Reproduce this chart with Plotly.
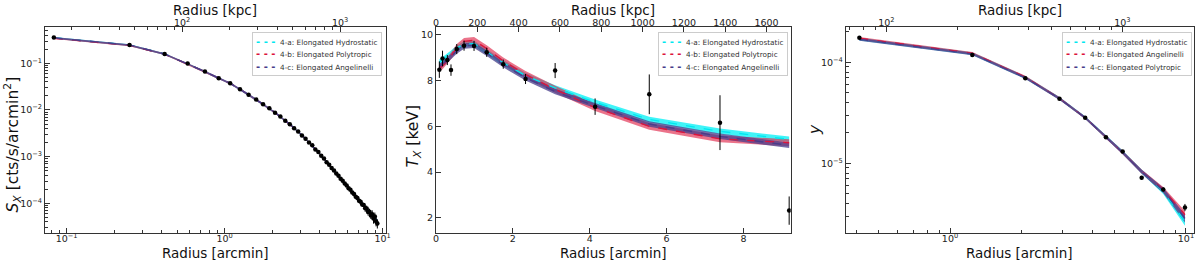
import plotly.graph_objects as go

KPC_PER_ARCMIN = 186.0

# ---------------- Panel 1 : X-ray surface brightness ----------------
sx_radius = [0.083, 0.250, 0.417, 0.583, 0.750, 0.917, 1.083, 1.250, 1.417, 1.583,
             1.750, 1.917, 2.083, 2.250, 2.417, 2.583, 2.750, 2.917, 3.083, 3.250,
             3.417, 3.583, 3.750, 3.917, 4.083, 4.250, 4.417, 4.583, 4.750, 4.917,
             5.083, 5.250, 5.417, 5.583, 5.750, 5.917, 6.083, 6.250, 6.417, 6.583,
             6.750, 6.917, 7.083, 7.250, 7.417, 7.583, 7.750, 7.917, 8.083, 8.250,
             8.417, 8.583, 8.750, 8.917, 9.083, 9.250]
sx_value = [0.355, 0.246, 0.159, 0.0985, 0.0665, 0.0480, 0.0372, 0.0278, 0.0212, 0.0168,
            0.0132, 0.0109, 0.00875, 0.00722, 0.00590, 0.00495, 0.00405, 0.00345, 0.00283, 0.00243,
            0.00200, 0.00175, 0.00143, 0.00126, 0.00104, 9.1e-4, 7.6e-4, 6.7e-4, 5.7e-4, 5.05e-4,
            4.35e-4, 3.9e-4, 3.35e-4, 3.05e-4, 2.65e-4, 2.42e-4, 2.1e-4, 1.95e-4, 1.7e-4, 1.58e-4,
            1.38e-4, 1.3e-4, 1.14e-4, 1.08e-4, 9.4e-5, 9.2e-5, 7.8e-5, 7.7e-5, 6.5e-5, 6.6e-5,
            5.5e-5, 5.8e-5, 4.7e-5, 5.2e-5, 4.1e-5, 3.7e-5]
sx_err_frac = [0.02, 0.02, 0.02, 0.02, 0.02, 0.02, 0.02, 0.02, 0.02, 0.02,
               0.025, 0.025, 0.025, 0.025, 0.025, 0.025, 0.025, 0.025, 0.025, 0.025,
               0.035, 0.035, 0.035, 0.035, 0.035, 0.035, 0.035, 0.035, 0.035, 0.035,
               0.05, 0.05, 0.05, 0.05, 0.05, 0.05, 0.07, 0.07, 0.07, 0.07,
               0.07, 0.10, 0.10, 0.10, 0.10, 0.10, 0.16, 0.16, 0.16, 0.16,
               0.16, 0.22, 0.22, 0.22, 0.22, 0.22]

sx_model_radius = [0.083, 0.250, 0.417, 0.583, 0.750, 0.917, 1.083, 1.250, 1.583, 2.083,
                   2.583, 3.083, 3.583, 4.083, 4.583, 5.083, 5.583, 6.083, 6.583, 7.083,
                   7.583, 8.083, 8.583, 9.250]
sx_model_a = [0.350, 0.245, 0.158, 0.0980, 0.0661, 0.0478, 0.0373, 0.0277, 0.01667, 0.00879,
              0.00492, 0.00287, 0.00172, 0.00106, 6.65e-4, 4.40e-4, 3.02e-4, 2.14e-4, 1.56e-4, 1.17e-4,
              8.87e-5, 6.87e-5, 5.45e-5, 4.05e-5]
sx_model_b = [0.345, 0.242, 0.157, 0.0978, 0.0660, 0.0478, 0.0372, 0.0277, 0.01665, 0.00878,
              0.00491, 0.00287, 0.00172, 0.00106, 6.63e-4, 4.38e-4, 3.00e-4, 2.12e-4, 1.54e-4, 1.15e-4,
              8.70e-5, 6.70e-5, 5.20e-5, 3.75e-5]
sx_model_c = [0.350, 0.246, 0.158, 0.0981, 0.0662, 0.0479, 0.0373, 0.0278, 0.01668, 0.00880,
              0.00493, 0.00288, 0.00173, 0.00107, 6.66e-4, 4.41e-4, 3.03e-4, 2.15e-4, 1.57e-4, 1.18e-4,
              8.95e-5, 6.95e-5, 5.50e-5, 4.10e-5]
sx_band_frac = [0.045, 0.045, 0.045, 0.045, 0.045, 0.045, 0.045, 0.045, 0.045, 0.045,
                0.045, 0.045, 0.045, 0.045, 0.05, 0.05, 0.05, 0.055, 0.06, 0.065,
                0.07, 0.08, 0.09, 0.11]
sx_labels = ["4-a: Elongated Hydrostatic", "4-b: Elongated Polytropic", "4-c: Elongated Angelinelli"]

# ---------------- Panel 2 : X-ray temperature ----------------
t_radius = [0.087, 0.17, 0.295, 0.39, 0.54, 0.73, 0.99, 1.32, 1.75, 2.33, 3.10, 4.14, 5.55, 7.39, 9.19]
t_value = [8.48, 8.97, 8.90, 8.46, 9.38, 9.53, 9.52, 9.24, 8.72, 8.07, 8.44, 6.86, 7.40, 6.16, 2.31]
t_err = [0.36, 0.34, 0.22, 0.25, 0.22, 0.22, 0.22, 0.20, 0.20, 0.22, 0.33, 0.36, 0.87, 1.20, 0.62]
t_model_a = [8.80, 8.90, 9.05, 9.20, 9.42, 9.60, 9.62, 9.27, 8.78, 8.22, 7.68, 7.05, 6.30, 5.78, 5.43]
t_model_b = [8.55, 8.65, 8.88, 9.08, 9.45, 9.72, 9.76, 9.40, 8.86, 8.27, 7.62, 6.82, 6.00, 5.45, 5.28]
t_model_c = [8.62, 8.72, 8.90, 9.05, 9.30, 9.52, 9.55, 9.20, 8.70, 8.12, 7.52, 6.90, 6.10, 5.56, 5.17]
t_band_halfwidth = [0.12, 0.15, 0.12]
t_labels = ["4-a: Elongated Hydrostatic", "4-b: Elongated Polytropic", "4-c: Elongated Angelinelli"]

# ---------------- Panel 3 : Compton y ----------------
y_radius = [0.413, 1.243, 2.085, 2.91, 3.74, 4.58, 5.39, 6.49, 8.01, 9.90]
y_value = [1.75e-4, 1.18e-4, 6.95e-5, 4.37e-5, 2.83e-5, 1.81e-5, 1.31e-5, 7.2e-6, 5.52e-6, 3.66e-6]
y_err = [4e-6, 3e-6, 2e-6, 1.2e-6, 8e-7, 5e-7, 4e-7, 3e-7, 2.5e-7, 3e-7]
y_model_a = [1.70e-4, 1.22e-4, 7.10e-5, 4.40e-5, 2.84e-5, 1.85e-5, 1.29e-5, 8.3e-6, 5.3e-6, 2.65e-6]
y_model_b = [1.73e-4, 1.23e-4, 7.15e-5, 4.40e-5, 2.83e-5, 1.83e-5, 1.28e-5, 8.3e-6, 5.5e-6, 3.10e-6]
y_model_c = [1.69e-4, 1.21e-4, 7.05e-5, 4.38e-5, 2.83e-5, 1.84e-5, 1.28e-5, 8.25e-6, 5.4e-6, 2.85e-6]
y_band_frac = [0.03, 0.03, 0.03, 0.03, 0.03, 0.035, 0.04, 0.045, 0.06, 0.09]
y_labels = ["4-a: Elongated Hydrostatic", "4-b: Elongated Angelinelli", "4-c: Elongated Polytropic"]

# ---------------- styling ----------------
LINE_COLORS = ["#00e8f0", "#dc143c", "#483d8b"]
BAND_COLORS = ["rgba(0,240,245,0.75)", "rgba(225,40,75,0.65)", "rgba(72,61,139,0.75)"]
FONT = "DejaVu Sans"
AX_COLOR = "#333333"

fig = go.Figure()


def add_band(xs, lo, hi, color, xa, ya):
    fig.add_trace(go.Scatter(x=list(xs) + list(xs)[::-1], y=list(hi) + list(lo)[::-1],
                             fill="toself", fillcolor=color, line=dict(width=0),
                             mode="lines", hoverinfo="skip", showlegend=False,
                             xaxis=xa, yaxis=ya))


def add_line(xs, ys, color, xa, ya):
    fig.add_trace(go.Scatter(x=xs, y=ys, mode="lines",
                             line=dict(color=color, width=1.4, dash="dash"),
                             showlegend=False, xaxis=xa, yaxis=ya))


def add_points(xs, ys, errs, xa, ya):
    fig.add_trace(go.Scatter(x=xs, y=ys, mode="markers",
                             marker=dict(color="black", size=4.5),
                             error_y=dict(type="data", array=errs, color="black", thickness=1, width=0),
                             showlegend=False, xaxis=xa, yaxis=ya))


# panel 1
sx_models = [sx_model_a, sx_model_b, sx_model_c]
for m, bc in zip(sx_models, BAND_COLORS):
    add_band(sx_model_radius, [v * (1 - f) for v, f in zip(m, sx_band_frac)],
             [v * (1 + f) for v, f in zip(m, sx_band_frac)], bc, "x", "y")
for m, lc in zip(sx_models, LINE_COLORS):
    add_line(sx_model_radius, m, lc, "x", "y")
add_points(sx_radius, sx_value, [v * f for v, f in zip(sx_value, sx_err_frac)], "x", "y")
fig.add_trace(go.Scatter(x=[r * KPC_PER_ARCMIN for r in sx_radius], y=sx_value, mode="markers",
                         marker=dict(opacity=0), hoverinfo="skip", showlegend=False,
                         xaxis="x4", yaxis="y"))

# panel 2
t_models = [t_model_a, t_model_b, t_model_c]
for m, bc, hw in zip(t_models, BAND_COLORS, t_band_halfwidth):
    add_band(t_radius, [v - hw for v in m], [v + hw for v in m], bc, "x2", "y2")
for m, lc in zip(t_models, LINE_COLORS):
    add_line(t_radius, m, lc, "x2", "y2")
add_points(t_radius, t_value, t_err, "x2", "y2")
fig.add_trace(go.Scatter(x=[r * KPC_PER_ARCMIN for r in t_radius], y=t_value, mode="markers",
                         marker=dict(opacity=0), hoverinfo="skip", showlegend=False,
                         xaxis="x5", yaxis="y2"))

# panel 3
y_models = [y_model_a, y_model_b, y_model_c]
for m, bc in zip(y_models, BAND_COLORS):
    add_band(y_radius, [v * (1 - f) for v, f in zip(m, y_band_frac)],
             [v * (1 + f) for v, f in zip(m, y_band_frac)], bc, "x3", "y3")
for m, lc in zip(y_models, LINE_COLORS):
    add_line(y_radius, m, lc, "x3", "y3")
add_points(y_radius, y_value, y_err, "x3", "y3")
fig.add_trace(go.Scatter(x=[r * KPC_PER_ARCMIN for r in y_radius], y=y_value, mode="markers",
                         marker=dict(opacity=0), hoverinfo="skip", showlegend=False,
                         xaxis="x6", yaxis="y3"))

# ---------------- axes ----------------
W, H = 1200, 264


def xd(a, b):
    return [a / W, b / W]


Y_DOM = [1 - 233 / H, 1 - 26.7 / H]
X_DOMS = [xd(45, 385.7), xd(436, 790.7), xd(845.7, 1194)]

base = dict(showline=True, linecolor=AX_COLOR, linewidth=1, ticks="inside", ticklen=5,
            tickwidth=1, tickcolor=AX_COLOR, showgrid=False, zeroline=False,
            tickfont=dict(family=FONT, size=9.5, color="#222222"), automargin=False)
top = dict(base, ticklabelstandoff=-4)
bottom = dict(base, ticklabelstandoff=-3)
MINOR = dict(ticks="inside", ticklen=3, tickcolor=AX_COLOR, tickmode="array")


def minor_log(decades):
    return [m * 10 ** d for d in decades for m in range(2, 10)]


def sup(p):
    return "10<sup>" + ("\u2212" if p < 0 else "") + str(abs(p)) + "</sup>"


LOG_KPC = 2.2695  # log10(KPC_PER_ARCMIN)

layout_axes = dict(
    # panel 1
    xaxis=dict(bottom, domain=X_DOMS[0], anchor="y", type="log", range=[-1.137, 1.019], mirror=True,
               tickmode="array", tickvals=[0.1, 1, 10], ticktext=[sup(-1), sup(0), sup(1)],
               minor=dict(MINOR, tickvals=minor_log([-2, -1, 0]))),
    yaxis=dict(base, domain=Y_DOM, anchor="x", type="log", range=[-4.636, -0.216], mirror=True,
               tickmode="array", tickvals=[1e-4, 1e-3, 1e-2, 1e-1], ticktext=[sup(-4), sup(-3), sup(-2), sup(-1)],
               minor=dict(MINOR, tickvals=minor_log([-5, -4, -3, -2, -1]))),
    xaxis4=dict(top, overlaying="x", side="top", anchor="y", type="log",
                range=[-1.137 + LOG_KPC, 1.019 + LOG_KPC],
                tickmode="array", tickvals=[100, 1000], ticktext=[sup(2), sup(3)],
                minor=dict(MINOR, tickvals=minor_log([1, 2, 3]))),
    # panel 2
    xaxis2=dict(bottom, domain=X_DOMS[1], anchor="y2", range=[0, 9.23], mirror=True,
                tickmode="array", tickvals=[0, 2, 4, 6, 8]),
    yaxis2=dict(base, domain=Y_DOM, anchor="x2", range=[1.33, 10.36], mirror=True,
                tickmode="array", tickvals=[2, 4, 6, 8, 10]),
    xaxis5=dict(top, overlaying="x2", side="top", anchor="y2", range=[0, 9.23 * KPC_PER_ARCMIN],
                tickmode="array", tickvals=[0, 200, 400, 600, 800, 1000, 1200, 1400, 1600]),
    # panel 3
    xaxis3=dict(bottom, domain=X_DOMS[2], anchor="y3", type="log", range=[-0.442, 1.034], mirror=True,
                tickmode="array", tickvals=[1, 10], ticktext=[sup(0), sup(1)],
                minor=dict(MINOR, tickvals=minor_log([-1, 0]))),
    yaxis3=dict(base, domain=Y_DOM, anchor="x3", type="log", range=[-5.690, -3.647], mirror=True,
                tickmode="array", tickvals=[1e-5, 1e-4], ticktext=[sup(-5), sup(-4)],
                minor=dict(MINOR, tickvals=minor_log([-6, -5, -4]))),
    xaxis6=dict(top, overlaying="x3", side="top", anchor="y3", type="log",
                range=[-0.442 + LOG_KPC, 1.034 + LOG_KPC],
                tickmode="array", tickvals=[100, 1000], ticktext=[sup(2), sup(3)],
                minor=dict(MINOR, tickvals=minor_log([1, 2, 3]))),
)


def legend_text(labels):
    rows = []
    for lab, col in zip(labels, LINE_COLORS):
        rows.append(f"<span style='color:{col};font-size:10px'><b>- - -</b></span>"
                    f"<span style='font-size:7.3px'>  {lab}</span>")
    return "<br>".join(rows)


annotations = []
# legends
for i, (labs, xr) in enumerate([(sx_labels, 0.989), (t_labels, 0.992), (y_labels, 0.993)]):
    suffix = "" if i == 0 else str(i + 1)
    annotations.append(dict(text=legend_text(labs), xref=f"x{suffix} domain", yref=f"y{suffix} domain",
                            x=xr, y=0.975, xanchor="right", yanchor="top", align="left",
                            showarrow=False, bordercolor="#cccccc", borderwidth=1, borderpad=3,
                            bgcolor="rgba(255,255,255,0.85)",
                            font=dict(family=FONT, size=9.6, color="#333333")))

# axis titles
TITLE_H = dict(family=FONT, size=13.5, color="#111111")
TITLE_V = dict(family=FONT, size=15.5, color="#111111")
for i in range(3):
    suffix = "" if i == 0 else str(i + 1)
    annotations.append(dict(text="Radius [arcmin]", xref=f"x{suffix} domain", yref="paper",
                            x=0.5, y=1 - 253 / H, xanchor="center", yanchor="middle",
                            showarrow=False, font=TITLE_H, borderpad=0))
    annotations.append(dict(text="Radius [kpc]", xref=f"x{suffix} domain", yref="paper",
                            x=0.5, y=1 - 9.5 / H, xanchor="center", yanchor="middle",
                            showarrow=False, font=TITLE_H, borderpad=0))

y_titles = ["<i>S</i><sub><i>X</i></sub> [cts/s/arcmin<sup>2</sup>]",
            "<i>T</i><sub><i>X</i></sub> [keV]",
            "<i>y</i>"]
y_title_px = [(13.0, 144.5), (413.0, 136.5), (815.0, 130.0)]
for txt, (px, py) in zip(y_titles, y_title_px):
    annotations.append(dict(text=txt, xref="paper", yref="paper", x=px / W, y=1 - py / H,
                            xanchor="center", yanchor="middle", textangle=-90,
                            showarrow=False, font=TITLE_V))

fig.update_layout(width=W, height=H, margin=dict(l=0, r=0, t=0, b=0),
                  paper_bgcolor="white", plot_bgcolor="white",
                  font=dict(family=FONT, color="#222222"),
                  showlegend=False, annotations=annotations, **layout_axes)

# the page's default 8px body margin would push the 1200x264 figure out of the window
fig.write_html("out.html", config={"displayModeBar": False},
               post_script="document.body.style.margin='0px';")
